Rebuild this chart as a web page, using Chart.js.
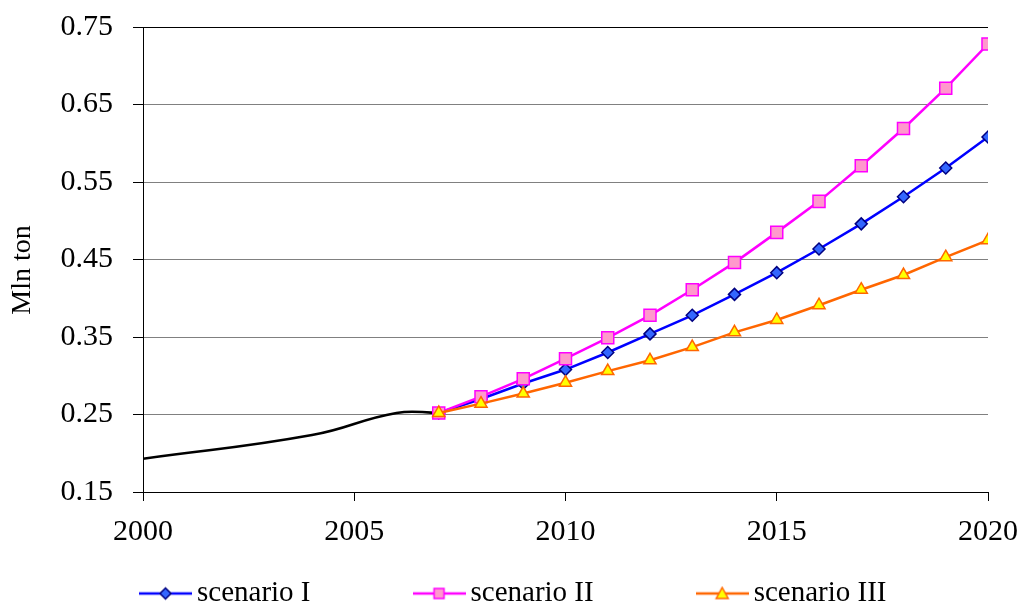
<!DOCTYPE html>
<html>
<head>
<meta charset="utf-8">
<script src="https://cdn.jsdelivr.net/npm/chart.js@4.4.1/dist/chart.umd.min.js"></script>
<style>
  html, body { margin: 0; padding: 0; background: #fff; }
  canvas { display: block; }
</style>
</head>
<body>
<canvas id="chart" width="1022" height="606"></canvas>
<script>
// historical line (no markers)
const histYears = [2000, 2004, 2006, 2007]
const histValues = [0.193, 0.2235, 0.252, 0.252]

// scenarios
const years = [2007, 2008, 2009, 2010, 2011, 2012, 2013, 2014, 2015, 2016, 2017, 2018, 2019, 2020]
const scenario1 = [0.252, 0.270, 0.290, 0.308, 0.330, 0.354, 0.378, 0.405, 0.433, 0.4635, 0.496, 0.531, 0.568, 0.608]
const scenario2 = [0.252, 0.273, 0.296, 0.322, 0.349, 0.378, 0.411, 0.446, 0.485, 0.525, 0.571, 0.619, 0.671, 0.728]
const scenario3 = [0.252, 0.264, 0.277, 0.291, 0.306, 0.320, 0.337, 0.356, 0.372, 0.391, 0.411, 0.430, 0.453, 0.475]
const seriesNames = ['scenario I', 'scenario II', 'scenario III']

const FONT = "'Liberation Serif', 'Times New Roman', serif"
Chart.defaults.color = '#000'
Chart.defaults.font.family = FONT

const toPoints = (xs, ys) => xs.map((x, i) => ({ x: x, y: ys[i] }))

// line + marker swatch for the legend
function legendSwatch(color, fill, border, shape) {
  const c = document.createElement('canvas')
  c.width = 53
  c.height = 16
  const ctx = c.getContext('2d')
  const cx = 26.5
  ctx.strokeStyle = color
  ctx.lineWidth = 2.5
  ctx.beginPath()
  ctx.moveTo(0, 8)
  ctx.lineTo(53, 8)
  ctx.stroke()
  ctx.fillStyle = fill
  ctx.strokeStyle = border
  ctx.lineWidth = 1.5
  ctx.beginPath()
  if (shape === 'rectRot') {
    ctx.moveTo(cx, 2.5); ctx.lineTo(cx + 5.5, 8); ctx.lineTo(cx, 13.5); ctx.lineTo(cx - 5.5, 8)
  } else if (shape === 'rect') {
    ctx.rect(cx - 5, 3, 10, 10)
  } else {
    ctx.moveTo(cx, 2); ctx.lineTo(cx + 6, 13); ctx.lineTo(cx - 6, 13)
  }
  ctx.closePath()
  ctx.fill()
  ctx.stroke()
  return c
}

const styles = [
  { line: '#0000ff', fill: '#3366ff', border: '#000080', shape: 'rectRot', radius: 6 },
  { line: '#ff00ff', fill: '#ff99cc', border: '#ff00ff', shape: 'rect', radius: 8.5 },
  { line: '#ff6600', fill: '#ffff00', border: '#ff6600', shape: 'triangle', radius: 7 },
]
const swatches = styles.map((s) => legendSwatch(s.line, s.fill, s.border, s.shape))
const trailing = [14, 14, 0]

// later series drawn on top, like the original
const scenarioSets = [scenario1, scenario2, scenario3].map((vals, i) => ({
  label: seriesNames[i],
  data: toPoints(years, vals),
  order: 2 - i,
  borderColor: styles[i].line,
  borderWidth: 2.5,
  backgroundColor: styles[i].fill,
  pointBackgroundColor: styles[i].fill,
  pointBorderColor: styles[i].border,
  pointBorderWidth: 1.5,
  pointStyle: styles[i].shape,
  pointRadius: styles[i].radius,
  tension: 0,
}))

new Chart(document.getElementById('chart'), {
  type: 'line',
  data: {
    datasets: [
      {
        label: 'history',
        data: toPoints(histYears, histValues),
        order: 3,
        borderColor: '#000',
        borderWidth: 2.5,
        pointRadius: 0,
        tension: 0.45,
      },
      ...scenarioSets,
    ],
  },
  options: {
    responsive: false,
    animation: false,
    layout: { padding: { left: 13, right: 0, top: 0, bottom: -12 } },
    plugins: {
      tooltip: { enabled: false },
      legend: {
        position: 'bottom',
        labels: {
          usePointStyle: true,
          pointStyleWidth: 34,
          padding: 10,
          font: { size: 29, family: FONT },
          generateLabels: (chart) => {
            const items = Chart.defaults.plugins.legend.labels.generateLabels(chart)
            return items
              .filter((it) => it.datasetIndex > 0)
              .sort((a, b) => a.datasetIndex - b.datasetIndex)
              .map((it) => {
                const k = it.datasetIndex - 1
                it.pointStyle = swatches[k]
                it.text = it.text + ' '.repeat(trailing[k])
                return it
              })
          },
        },
      },
    },
    scales: {
      x: {
        type: 'linear',
        min: 2000,
        max: 2020,
        afterFit: (scale) => {
          scale.height = 77
          scale.paddingRight = 34
        },
        ticks: { stepSize: 5, padding: 13, font: { size: 30, family: FONT }, callback: (v) => String(v) },
        grid: { drawOnChartArea: false, drawTicks: true, tickLength: 9, tickColor: '#000' },
        border: { color: '#000', width: 1 },
      },
      y: {
        min: 0.15,
        max: 0.75,
        afterFit: (scale) => {
          scale.width = 130
          scale.paddingTop = 27
          scale.paddingBottom = 0
        },
        ticks: { stepSize: 0.1, padding: 20, font: { size: 30, family: FONT }, callback: (v) => v.toFixed(2) },
        grid: {
          color: (ctx) => (ctx.tick && Math.abs(ctx.tick.value - 0.75) < 1e-6 ? '#000' : '#808080'),
          lineWidth: 1,
          tickLength: 10,
          tickColor: '#000',
        },
        border: { color: '#000', width: 1 },
        title: { display: true, text: 'Mln ton   ', font: { size: 28, family: FONT }, padding: { top: -7, bottom: 0 } },
      },
    },
  },
})
</script>
</body>
</html>
